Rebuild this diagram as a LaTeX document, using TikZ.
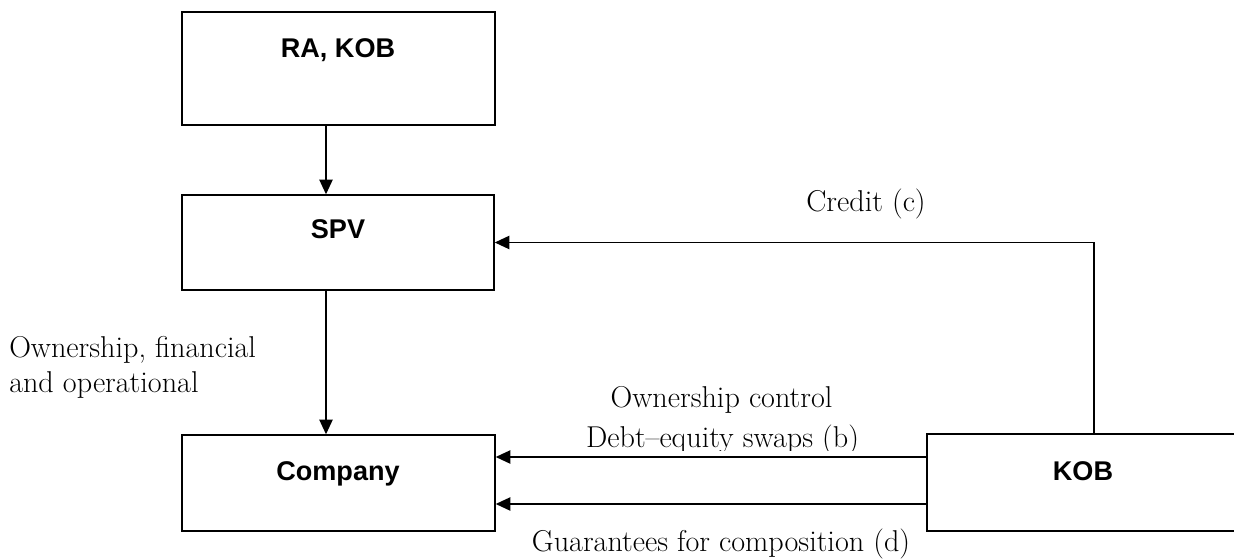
\documentclass[tikz,border=0pt]{standalone}
\usepackage{fontspec}
\newfontfamily\boxfont{Liberation Sans}
\usetikzlibrary{arrows.meta}
\tikzset{
  box/.style={draw, rectangle, inner sep=0pt, line width=1.1pt},
  boxlabel/.style={anchor=base, inner sep=0pt, font=\boxfont\bfseries\fontsize{20.3}{24}\selectfont},
  txt/.style={anchor=base, inner sep=0pt, font=\fontsize{22.6}{25.5}\selectfont},
  arr/.style={line width=1.1pt, -{Triangle[length=11pt,width=10pt]}},
}
\begin{document}
\begin{tikzpicture}[x=0.75pt, y=-0.75pt]
\useasboundingbox (0,0) rectangle (1234,559);
% boxes
\node[box, minimum width=234.75pt, minimum height=84.75pt] (ra) at (338.5,68.5) {};
\node[box, minimum width=234pt, minimum height=71.25pt] (spv) at (338,242.5) {};
\node[box, minimum width=234.75pt, minimum height=72pt] (comp) at (338.5,483) {};
\node[box, minimum width=234.75pt, minimum height=72.75pt] (kob) at (1083.5,482.5) {};
% box labels
\node[boxlabel] (ralab) at (338,58) {RA, KOB};
\node[boxlabel] (spvlab) at (338,239) {SPV};
\node[boxlabel] (complab) at (338,480) {Company};
\node[boxlabel] (koblab) at (1083,480) {KOB};
% helper coordinates
\coordinate (vx) at (326,0);
\coordinate (kx) at (1094,0);
\coordinate (h1) at (0,457);
\coordinate (h2) at (0,504);
% connectors
\draw[arr] (vx |- ra.south) -- (vx |- spv.north);
\draw[arr] (vx |- spv.south) -- (vx |- comp.north);
\draw[arr] (kx |- kob.north) |- (spv.east);
\draw[arr] (h1 -| kob.west) -- (h1 -| comp.east);
\draw[arr] (h2 -| kob.west) -- (h2 -| comp.east);
% texts
\node[txt, anchor=base west] (own1) at (9,358) {Ownership, financial};
\node[txt, anchor=base west] (own2) at (9,392) {and operational};
\node[txt] (credit) at (866,212) {Credit (c)};
\node[txt] (ownc) at (721.5,407) {Ownership control};
\begin{scope}
\clip (560,415) rectangle (900,450);
\node[txt] (debt) at (722.5,447) {Debt--equity swaps (b)};
\end{scope}
\node[txt] (guar) at (721,551) {Guarantees for composition (d)};
\end{tikzpicture}
\end{document}
